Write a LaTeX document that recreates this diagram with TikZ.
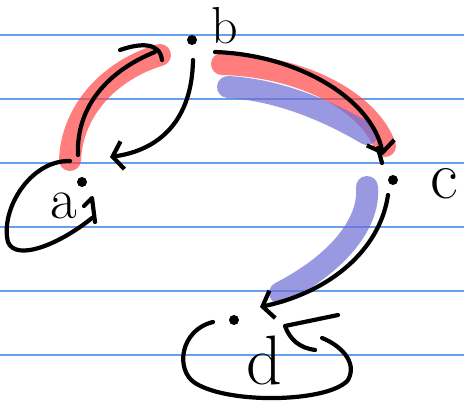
\documentclass[tikz,border=0pt]{standalone}
\usepackage{fontspec}
\usetikzlibrary{arrows.meta}
\definecolor{ruled}{RGB}{100,160,235}
\definecolor{hlred}{RGB}{255,70,70}
\definecolor{hlblue}{RGB}{110,110,215}
\tikzset{
  ink/.style={line width=4.2pt, line cap=round, line join=round, black},
  barb/.style={-{Straight Barb[length=10pt,width=28pt,line width=4.2pt]}},
  hlr/.style={line width=22pt, line cap=round, draw=hlred, draw opacity=0.7},
  hlb/.style={line width=22pt, line cap=round, draw=hlblue, draw opacity=0.7},
  vtx/.style={circle, fill=black, inner sep=0pt, minimum size=10pt},
  lbl/.style={inner sep=0pt}
}
\begin{document}
\begin{tikzpicture}[x=1pt,y=-1pt]
\useasboundingbox (0,0) rectangle (464,401);
\fill[white] (0,0) rectangle (464,401);
% ruled lines
\foreach \yy in {35,99,163,227,291,355}
  \draw[ruled, line width=1.2pt] (0,\yy) -- (464,\yy);
% vertices
\node[vtx] (b) at (192,40) {};
\node[vtx] (a) at (82,182) {};
\node[vtx] (c) at (393,180) {};
\node[vtx] (d) at (234,320) {};
% labels
\node[lbl, font=\fontsize{52}{52}\selectfont] (lb) at (225,26) {b};
\node[lbl, font=\fontsize{58}{58}\selectfont] (la) at (64,206) {a};
\node[lbl, font=\fontsize{68}{68}\selectfont] (lc) at (444,184) {c};
\node[lbl, font=\fontsize{70}{70}\selectfont] (ld) at (264,360) {d};
% coordinates
\coordinate (ba0) at (193,60);
\coordinate (ba1) at (110,157);
\coordinate (ab0) at (78,155);
\coordinate (ab1) at (155,52);
\coordinate (bc0) at (215,52);
\coordinate (bc1) at (383,155);
\coordinate (cd0) at (388,195);
\coordinate (cd1) at (260,307);
% highlights
\draw[hlr] (70,160) .. controls (72,110) and (110,70) .. (160,55);
\draw[hlr] (222,64) .. controls (300,66) and (368,100) .. (385,146);
\draw[hlb] (228,87) .. controls (280,90) and (330,112) .. (367,134);
\draw[hlb] (367,187) .. controls (370,222) and (340,262) .. (280,293);
% edges
\draw[ink,barb] (ba0) .. controls (192,120) and (160,150) .. (ba1);
\draw[ink] (ab0) .. controls (76,105) and (110,70) .. (ab1);
\draw[ink] (120,50) .. controls (140,43) and (160,42) .. (162,60);
\draw[ink,barb] (bc0) .. controls (300,55) and (372,100) .. (bc1);
\draw[ink] (378,148) -- (382,163);
\draw[ink,barb] (cd0) .. controls (380,250) and (330,292) .. (cd1);
% self loops
\draw[ink] (70,161) .. controls (30,160) and (0,210) .. (8,242)
  .. controls (16,262) and (60,244) .. (92,218);
\draw[ink] (84,206) -- (92,198) -- (95,222);
\draw[ink] (213,322) .. controls (180,330) and (175,370) .. (195,383)
  .. controls (230,405) and (330,402) .. (348,380)
  .. controls (358,362) and (340,345) .. (322,338);
\draw[ink] (338,315) -- (285,326) .. controls (290,340) and (300,348) .. (315,350);
\end{tikzpicture}
\end{document}
